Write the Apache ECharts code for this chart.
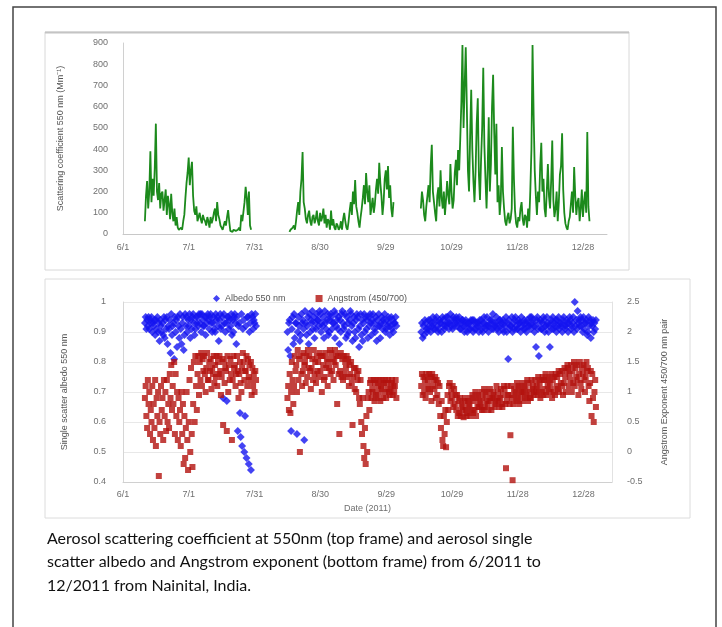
<!DOCTYPE html>
<html>
<head>
<meta charset="utf-8">
<script src="https://cdn.jsdelivr.net/npm/echarts@6/dist/echarts.min.js"></script>
<style>
  html, body { margin: 0; padding: 0; background: #fff; }
  #chart { width: 722px; height: 627px; }
</style>
</head>
<body>
<div id="chart"></div>
<script>
// Day offsets are counted from 1 June 2011.
const dayTickLabels = ['6/1', '7/1', '7/31', '8/30', '9/29', '10/29', '11/28', '12/28'];

// Scattering coefficient at 550 nm (Mm^-1), two readings per day, per campaign segment
const scatStart = [10, 76, 136];
const scatJun = [
  60,180, 250,120, 200,390, 150,260, 180,310, 520,200, 160,240, 120,190, 200,110, 160,210,
  90,180, 140,70, 190,100, 60,120, 40,80, 30,20, 15,30, 20,60, 90,170, 240,290,
  360,230, 300,340, 180,110, 90,130, 60,80, 100,70, 50,90, 70,60, 40,80, 60,30,
  80,50, 70,100, 120,60, 150,90, 70,40, 30,20, 40,60, 40,80, 113,60, 15,10,
  10,20, 25,15, 10,20, 30,15, 90,60, 60,150, 222,170, 90,200, 40,20
];
const scatAug = [
  10,20, 15,30, 40,20, 60,110, 150,90, 200,260, 386,150, 120,70, 50,90, 110,60,
  40,80, 90,50, 70,110, 60,40, 100,60, 80,120, 50,90, 30,70, 60,20, 110,40,
  70,30, 20,50, 40,20, 30,60, 20,70, 100,60, 30,20, 60,110, 150,90, 200,140,
  254,130, 100,60, 30,80, 120,170, 230,140, 287,200, 150,230, 90,130, 170,100, 140,210,
  260,190, 335,240, 180,90, 150,260, 300,210, 320,170, 230,120, 80,150
];
const scatOct = [
  120,200, 160,90, 60,130, 180,230, 150,320, 420,200, 150,100, 60,180, 220,130, 300,170,
  120,200, 90,160, 250,180, 140,330, 200,120, 160,290, 350,230, 396,300, 450,620, 890,500,
  700,880, 600,300, 200,460, 680,400, 250,150, 300,520, 640,280, 160,350, 500,783, 420,260,
  120,300, 550,200, 330,600, 750,480, 280,520, 150,230, 90,160, 410,200, 120,60, 40,80,
  100,50, 70,120, 505,260, 110,50, 30,80, 60,120, 150,70, 40,90, 80,30, 120,60,
  210,400, 890,560, 300,180, 90,200, 150,320, 430,200, 260,120, 80,200, 330,180, 120,250,
  440,160, 80,120, 200,60, 150,280, 320,475, 210,100, 50,30, 20,60, 80,140, 200,100,
  316,180, 90,150, 170,60, 120,210, 80,150, 200,100, 480,130, 60
];

// Single scatter albedo at 550 nm, three readings per day
const obsStart = [10, 75, 136];
const albedoJun = [
  0.93,0.95,0.91, 0.94,0.92,0.95, 0.91,0.94,0.93, 0.95,0.90,0.93, 0.92,0.94,0.89,
  0.94,0.91,0.95, 0.90,0.93,0.87, 0.94,0.92,0.90, 0.93,0.89,0.95, 0.88,0.94,0.91,
  0.95,0.86,0.92, 0.91,0.94,0.83, 0.96,0.89,0.92, 0.93,0.81,0.95, 0.90,0.94,0.85,
  0.95,0.92,0.88, 0.96,0.91,0.86, 0.93,0.95,0.84, 0.89,0.96,0.92, 0.95,0.90,0.94,
  0.92,0.96,0.88, 0.94,0.91,0.95, 0.96,0.93,0.89, 0.91,0.95,0.93, 0.95,0.92,0.96,
  0.93,0.96,0.90, 0.96,0.94,0.92, 0.92,0.95,0.89, 0.95,0.93,0.96, 0.94,0.91,0.95,
  0.96,0.93,0.90, 0.93,0.95,0.91, 0.90,0.96,0.94, 0.95,0.92,0.87, 0.94,0.96,0.91,
  0.92,0.95,0.68, 0.96,0.93,0.90, 0.93,0.67,0.95, 0.95,0.91,0.94, 0.92,0.96,0.89,
  0.94,0.90,0.95, 0.96,0.93,0.86, 0.95,0.57,0.92, 0.93,0.63,0.55, 0.96,0.52,0.91,
  0.94,0.50,0.62, 0.92,0.48,0.95, 0.95,0.46,0.90, 0.93,0.44,0.96, 0.95,0.91,0.94,
  0.93,0.96,0.92
];
const albedoAug = [
  0.90,0.84,0.93, 0.94,0.82,0.57, 0.91,0.95,0.86, 0.96,0.88,0.93, 0.93,0.56,0.90,
  0.95,0.92,0.87, 0.89,0.96,0.93, 0.94,0.91,0.54, 0.97,0.93,0.89, 0.92,0.95,0.86,
  0.96,0.90,0.94, 0.93,0.97,0.91, 0.95,0.88,0.93, 0.91,0.96,0.94, 0.94,0.92,0.97,
  0.96,0.90,0.93, 0.92,0.95,0.88, 0.97,0.93,0.91, 0.94,0.96,0.89, 0.90,0.94,0.96,
  0.95,0.91,0.93, 0.93,0.97,0.88, 0.96,0.92,0.94, 0.91,0.95,0.86, 0.94,0.90,0.96,
  0.97,0.93,0.91, 0.92,0.96,0.88, 0.95,0.89,0.93, 0.90,0.94,0.97, 0.96,0.92,0.87,
  0.93,0.95,0.90, 0.88,0.94,0.96, 0.95,0.91,0.85, 0.92,0.96,0.89, 0.94,0.87,0.93,
  0.96,0.90,0.95, 0.91,0.94,0.88, 0.95,0.92,0.96, 0.93,0.89,0.94, 0.96,0.93,0.91,
  0.90,0.95,0.87, 0.94,0.92,0.96, 0.92,0.88,0.93, 0.95,0.91,0.94, 0.93,0.96,0.90,
  0.91,0.94,0.92, 0.95,0.93,0.89, 0.92,0.95,0.91, 0.94,0.90,0.93, 0.93,0.95,0.92
];
const albedoOct = [
  0.90,0.93,0.88, 0.92,0.89,0.94, 0.93,0.91,0.90, 0.91,0.94,0.92, 0.94,0.90,0.93,
  0.92,0.95,0.91, 0.93,0.91,0.94, 0.95,0.92,0.90, 0.91,0.94,0.93, 0.93,0.90,0.95,
  0.94,0.92,0.91, 0.92,0.95,0.93, 0.95,0.93,0.91, 0.93,0.96,0.92, 0.94,0.91,0.95,
  0.92,0.94,0.93, 0.95,0.92,0.94, 0.93,0.95,0.91, 0.91,0.93,0.94, 0.94,0.92,0.90,
  0.92,0.94,0.93, 0.90,0.93,0.91, 0.93,0.91,0.94, 0.92,0.94,0.90, 0.94,0.91,0.93,
  0.91,0.93,0.92, 0.93,0.90,0.94, 0.92,0.94,0.91, 0.90,0.93,0.95, 0.93,0.91,0.92,
  0.95,0.92,0.90, 0.92,0.94,0.93, 0.94,0.91,0.96, 0.91,0.93,0.92, 0.93,0.95,0.91,
  0.92,0.90,0.94, 0.94,0.92,0.93, 0.91,0.94,0.90, 0.93,0.92,0.95, 0.90,0.93,0.81,
  0.94,0.91,0.92, 0.92,0.95,0.90, 0.93,0.91,0.94, 0.95,0.92,0.91, 0.91,0.94,0.93,
  0.93,0.90,0.95, 0.92,0.93,0.91, 0.94,0.91,0.93, 0.90,0.94,0.92, 0.93,0.92,0.95,
  0.91,0.95,0.93, 0.94,0.92,0.90, 0.92,0.85,0.94, 0.95,0.91,0.82, 0.93,0.94,0.91,
  0.91,0.93,0.95, 0.94,0.90,0.92, 0.92,0.95,0.93, 0.90,0.92,0.85, 0.93,0.94,0.91,
  0.95,0.91,0.93, 0.92,0.94,0.90, 0.94,0.92,0.95, 0.91,0.93,0.92, 0.93,0.90,0.94,
  0.95,0.92,0.91, 0.92,0.94,0.93, 0.90,0.93,0.95, 0.94,0.91,0.92, 0.93,0.95,0.90,
  1.00,0.92,0.94, 0.91,0.97,0.93, 0.94,0.92,0.95, 0.92,0.94,0.90, 0.95,0.91,0.93,
  0.93,0.94,0.89, 0.90,0.95,0.92, 0.94,0.88,0.93, 0.92,0.94,0.90, 0.93,0.91,0.94
];

// Angstrom exponent (450/700 nm pair), three readings per day
const angJun = [
  0.9,1.1,0.6, 0.4,1.2,0.8, 1.0,0.3,0.7, 0.5,1.1,0.2, 0.8,0.4,1.2,
  0.1,0.9,0.6, 1.0,-0.4,0.5, 0.3,1.1,0.7, 0.9,0.2,1.2, 0.6,1.0,0.35,
  1.2,0.5,0.8, 0.4,1.3,0.9, 1.45,0.7,1.1, 0.8,1.5,0.3, 1.3,0.6,1.0,
  0.2,0.9,0.5, 0.7,0.1,1.0, 0.3,0.8,-0.2, 0.6,-0.1,0.4, 1.0,0.2,-0.3,
  0.5,1.2,0.0, 1.4,0.3,-0.25, 0.8,1.5,0.5, 1.6,1.1,0.7, 1.3,1.6,0.95,
  1.5,1.2,1.65, 1.1,1.55,1.35, 1.6,1.3,1.0, 1.4,1.65,1.2, 1.2,1.5,1.35,
  1.55,1.05,1.4, 1.3,1.6,1.15, 1.45,1.25,1.6, 1.1,1.5,1.3, 1.6,1.35,0.95,
  1.25,1.55,0.45, 1.5,1.15,1.4, 1.35,0.35,1.6, 1.0,1.45,1.2, 1.55,1.3,0.2,
  1.2,1.6,1.4, 1.45,1.1,1.3, 1.6,1.35,0.9, 1.3,1.5,1.15, 1.0,1.4,1.65,
  1.5,1.2,1.35, 1.35,1.6,1.1, 1.55,1.25,1.45, 1.2,1.5,0.95, 1.4,1.1,1.3,
  1.0,1.35,1.2
];
const angAug = [
  0.9,1.1,0.7, 1.3,0.65,1.0, 1.5,1.2,0.8, 1.1,1.6,1.35, 1.45,1.0,1.7,
  1.2,1.55,0.0, 1.6,1.3,1.1, 1.35,1.65,1.45, 1.5,1.15,1.6, 1.25,1.7,1.4,
  1.6,1.35,1.05, 1.4,1.55,1.2, 1.7,1.3,1.5, 1.15,1.6,1.35, 1.5,1.25,1.65,
  1.35,1.6,1.0, 1.6,1.45,1.2, 1.25,1.65,1.4, 1.55,1.1,1.5, 1.4,1.7,1.3,
  1.65,1.35,1.55, 1.2,1.5,1.7, 1.45,1.6,0.8, 1.6,1.3,0.3, 1.35,1.65,1.25,
  1.55,1.2,1.6, 1.3,1.5,1.4, 1.6,1.25,1.55, 1.1,1.45,1.3, 1.5,1.15,0.45,
  1.25,1.4,1.05, 1.4,1.0,1.3, 1.2,1.35,0.9, 0.8,1.2,0.5, 0.3,0.9,0.1,
  -0.1,0.4,-0.2, 0.6,0.0,0.9, 1.0,0.7,1.15, 1.2,0.9,1.05, 1.0,1.2,0.85,
  1.15,0.95,1.2, 0.9,1.1,1.0, 1.2,0.85,1.1, 1.05,1.2,0.9, 1.15,1.0,1.2,
  0.9,1.15,1.05, 1.2,1.0,0.95, 1.05,1.15,1.2, 0.95,1.1,1.0, 1.1,1.2,0.9
];
const angOct = [
  1.1,1.3,0.95, 1.25,1.0,1.2, 0.9,1.3,1.1, 1.2,1.05,1.3, 1.0,1.25,0.85,
  1.3,1.1,1.2, 1.05,1.25,0.9, 1.2,0.95,1.15, 0.8,1.1,0.6, 0.4,0.85,0.2,
  0.1,0.6,0.3, 0.7,0.08,0.5, 0.95,0.7,1.1, 1.15,0.85,1.0, 0.9,1.1,0.75,
  1.05,0.8,0.95, 0.7,0.95,0.6, 0.85,0.65,0.9, 0.6,0.8,0.7, 0.75,0.58,0.85,
  0.9,0.7,0.6, 0.65,0.85,0.75, 0.8,0.6,0.9, 0.7,0.95,0.65, 0.85,0.7,1.0,
  0.6,0.9,0.75, 0.95,0.75,0.85, 0.8,1.0,0.7, 0.9,0.7,1.05, 0.75,0.95,0.85,
  1.0,0.8,0.7, 0.85,1.05,0.9, 0.7,0.9,1.0, 0.95,0.75,0.85, 0.8,1.1,0.9,
  1.0,0.85,0.75, 0.9,1.05,0.8, 0.75,0.95,1.1, 1.05,0.8,-0.27, 0.85,1.1,0.95,
  0.95,0.8,0.28, 1.1,0.9,-0.47, 0.8,1.05,0.95, 1.0,0.85,1.15, 0.9,1.1,0.8,
  1.05,0.95,1.0, 0.85,1.15,1.0, 1.1,0.9,1.05, 0.95,1.2,0.85, 1.15,1.0,0.9,
  0.9,1.2,1.05, 1.1,0.95,1.0, 1.2,1.0,1.1, 0.95,1.25,1.05, 1.15,0.9,1.2,
  1.0,1.25,0.95, 1.2,1.05,1.3, 0.95,1.2,1.1, 1.25,1.0,1.15, 1.05,1.3,0.9,
  1.2,1.0,1.25, 0.95,1.3,1.1, 1.25,1.05,1.35, 1.0,1.3,1.15, 1.35,1.1,0.95,
  1.15,1.4,1.25, 1.0,1.35,1.45, 1.4,1.1,1.3, 1.2,1.45,1.0, 1.35,1.15,1.5,
  1.1,1.4,1.25, 1.45,1.2,0.95, 1.3,1.5,1.15, 1.05,1.4,1.3, 1.45,1.2,1.0,
  1.25,1.5,1.35, 1.4,1.1,0.85, 1.15,1.35,0.6, 1.3,0.9,0.5, 1.0,1.2,0.75
];

const captionLines = [
  'Aerosol scattering coefficient at 550nm (top frame) and aerosol single',
  'scatter albedo and Angstrom exponent (bottom frame) from 6/2011 to',
  '12/2011 from Nainital, India.'
];

// Turn evenly spaced readings into [day, value] points
function toPoints(startDay, values, perDay) {
  return values.map((v, i) => [startDay + i / perDay, v]);
}

const chart = echarts.init(document.getElementById('chart'), null, { renderer: 'canvas' });

const tickFont = { fontFamily: 'Liberation Sans', fontSize: 9, color: '#6f6f6f' };
const dayAxisLabel = Object.assign({
  showMaxLabel: false,
  formatter: v => (v % 30 === 0 ? dayTickLabels[v / 30] || '' : '')
}, tickFont);

const green = '#1c8a1c';
const scatSegments = [scatJun, scatAug, scatOct].map((vals, k) => ({
  type: 'line',
  xAxisIndex: 0, yAxisIndex: 0,
  data: toPoints(scatStart[k], vals, 2),
  showSymbol: false,
  lineStyle: { color: green, width: 1.8 },
  itemStyle: { color: green },
  silent: true, animation: false
}));

const albedoPts = [].concat(
  toPoints(obsStart[0], albedoJun, 3),
  toPoints(obsStart[1], albedoAug, 3),
  toPoints(obsStart[2], albedoOct, 3)
);
const angPts = [].concat(
  toPoints(obsStart[0], angJun, 3),
  toPoints(obsStart[1], angAug, 3),
  toPoints(obsStart[2], angOct, 3)
);

chart.setOption({
  animation: false,
  backgroundColor: '#ffffff',
  grid: [
    { left: 123, right: 115, top: 43, bottom: 393 },
    { left: 123, right: 110, top: 302, bottom: 145 }
  ],
  legend: {
    top: 289, left: 208, itemGap: 30, itemWidth: 7, itemHeight: 7,
    textStyle: { fontFamily: 'Liberation Sans', fontSize: 9, color: '#555' },
    data: [
      { name: 'Albedo 550 nm', icon: 'diamond' },
      { name: 'Angstrom (450/700)', icon: 'rect' }
    ]
  },
  xAxis: [
    {
      gridIndex: 0, type: 'value', min: 0, max: 221, interval: 30,
      axisLine: { lineStyle: { color: '#c8c8c8' } },
      axisTick: { show: false }, splitLine: { show: false },
      axisLabel: Object.assign({ margin: 9 }, dayAxisLabel)
    },
    {
      gridIndex: 1, type: 'value', min: 0, max: 223, interval: 30,
      name: 'Date (2011)', nameLocation: 'middle', nameGap: 22,
      nameTextStyle: { fontFamily: 'Liberation Sans', fontSize: 9, color: '#6f6f6f' },
      axisLine: { onZero: false, lineStyle: { color: '#d0d0d0' } },
      axisTick: { show: false }, splitLine: { show: false },
      axisLabel: Object.assign({ margin: 8 }, dayAxisLabel)
    }
  ],
  yAxis: [
    {
      gridIndex: 0, type: 'value', min: 0, max: 900, interval: 100,
      name: 'Scattering coefficient 550 nm (Mm\u207B\u00B9)', nameLocation: 'middle', nameGap: 58,
      nameTextStyle: { fontFamily: 'Liberation Sans', fontSize: 9, color: '#555' },
      axisLine: { show: true, lineStyle: { color: '#d0d0d0' } },
      axisTick: { show: false }, splitLine: { show: false },
      axisLabel: Object.assign({ margin: 15 }, tickFont)
    },
    {
      gridIndex: 1, type: 'value', min: 0.4, max: 1, interval: 0.1, position: 'left',
      name: 'Single scatter albedo 550 nm', nameLocation: 'middle', nameGap: 54,
      nameTextStyle: { fontFamily: 'Liberation Sans', fontSize: 9, color: '#555' },
      axisLine: { show: true, lineStyle: { color: '#d6d6d6' } },
      axisTick: { show: false },
      splitLine: { show: true, lineStyle: { color: '#e8e8e8' } },
      axisLabel: Object.assign({ margin: 17, formatter: v => String(+v.toFixed(2)) }, tickFont)
    },
    {
      gridIndex: 1, type: 'value', min: -0.5, max: 2.5, interval: 0.5, position: 'right',
      name: 'Angstrom Exponent 450/700 nm pair', nameLocation: 'middle', nameGap: 48,
      nameTextStyle: { fontFamily: 'Liberation Sans', fontSize: 9, color: '#555' },
      axisLine: { show: true, lineStyle: { color: '#e2e2e2' } },
      axisTick: { show: false }, splitLine: { show: false },
      axisLabel: Object.assign({ margin: 15, formatter: v => String(+v.toFixed(1)) }, tickFont)
    }
  ],
  series: scatSegments.concat([
    {
      name: 'Albedo 550 nm', type: 'scatter', xAxisIndex: 1, yAxisIndex: 1,
      data: albedoPts, symbol: 'diamond', symbolSize: 8,
      itemStyle: { color: '#1414f0' }, silent: true
    },
    {
      name: 'Angstrom (450/700)', type: 'scatter', xAxisIndex: 1, yAxisIndex: 2,
      data: angPts, symbol: 'rect', symbolSize: 6,
      itemStyle: { color: '#b3120e' }, silent: true
    }
  ]),
  graphic: [
    // outer figure border
    { type: 'rect', shape: { x: 13, y: 7, width: 703, height: 660 },
      style: { fill: 'none', stroke: '#444', lineWidth: 1.5 }, silent: true },
    // panel frames
    { type: 'rect', shape: { x: 45, y: 32, width: 584, height: 238 },
      style: { fill: 'none', stroke: '#d8d8d8', lineWidth: 1 }, silent: true, z: -1 },
    { type: 'line', shape: { x1: 45, y1: 32.5, x2: 629, y2: 32.5 },
      style: { stroke: '#c4c4c4', lineWidth: 2 }, silent: true },
    { type: 'rect', shape: { x: 45, y: 279, width: 645, height: 239 },
      style: { fill: 'none', stroke: '#dcdcdc', lineWidth: 1 }, silent: true, z: -1 },
    // caption
    { type: 'text', left: 47, top: 527,
      style: { text: captionLines.join('\n'), fontFamily: 'Lato', fontSize: 16,
               lineHeight: 23.5, fill: '#111' }, silent: true }
  ]
});
</script>
</body>
</html>
